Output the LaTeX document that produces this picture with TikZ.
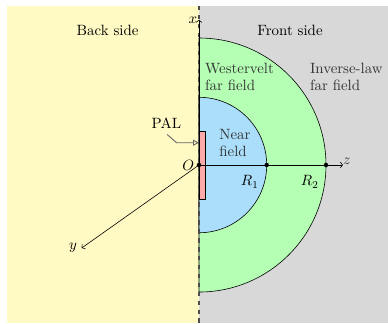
\documentclass[tikz,border=0pt]{standalone}
\usepackage{amsmath,amssymb}
\usepackage{tikz}
\usetikzlibrary{arrows.meta,positioning,calc}
\definecolor{backcol}{RGB}{255,249,196}
\definecolor{frontcol}{RGB}{216,216,216}
\definecolor{farcol}{RGB}{180,255,180}
\definecolor{nearcol}{RGB}{170,222,250}
\definecolor{palcol}{RGB}{255,170,170}

\begin{document}
\begin{tikzpicture}[
  axis/.style={-{Straight Barb[length=1.5pt,width=4pt]}, thin},
  lbl/.style={align=left, anchor=west, text=black!80},
  pt/.style={circle, fill, inner sep=0pt, minimum size=3pt}
]
\useasboundingbox (-4.70,-3.733) rectangle (4.465,3.898);

% Half spaces
\fill[backcol]  (-4.536,-3.733) rectangle (0,3.756);
\fill[frontcol] (0,-3.733) rectangle (4.465,3.756);

% Field regions
\draw[fill=farcol]  (0,3)   arc (90:-90:3)   -- cycle;
\draw[fill=nearcol] (0,1.6) arc (90:-90:1.6) -- cycle;

% Baffle plane
\draw[dashed, thick, black!70] (0,3.756) -- (0,-3.733);

% PAL
\draw[fill=palcol] (0,-0.8) rectangle (0.16,0.8);

% Axes
\coordinate (O)  at (0,0);
\coordinate (Xe) at (0,3.43);
\coordinate (Ze) at (3.40,0);
\coordinate (Ye) at (-2.77,-1.96);
\draw[axis] (O) -- (Xe);
\draw[axis] (O) -- (Ze);
\draw[axis] (O) -- (Ye);
\node[left, inner sep=1pt] at (Xe) {$x$};
\node[above right, inner sep=0pt, text=black!80] at (Ze) {$z$};
\node[left, inner sep=3pt] at (Ye) {$y$};

% Radii
\node[pt] (o)  at (O) {};
\node[pt] (r1) at (1.6,0) {};
\node[pt] (r2) at (3,0) {};
\node[left, inner sep=3pt] at (o) {$O$};
\node (r1l) at (1.2,-0.40) {$R_1$};
\node (r2l) at (2.62,-0.40) {$R_2$};

% Labels
\node (back)  at (-2.16,3.19) {Back side};
\node (front) at (2.15,3.19)  {Front side};
\node[lbl] (west) at (0.02,2.08) {Westervelt\\far field};
\node[lbl] (inv)  at (2.50,2.08) {Inverse-law\\far field};
\node[lbl] (near) at (0.36,0.52) {Near\\field};
\node (pal) at (-0.77,0.99) {PAL};
\coordinate (palk) at (-0.53,0.527);
\coordinate (palt) at (0,0.527);
\draw[black!60, semithick, -{Triangle[open,length=4pt,width=4pt]}] (pal.south) ++(0.02,-0.02) -- (palk) -- (palt);
\end{tikzpicture}
\end{document}
